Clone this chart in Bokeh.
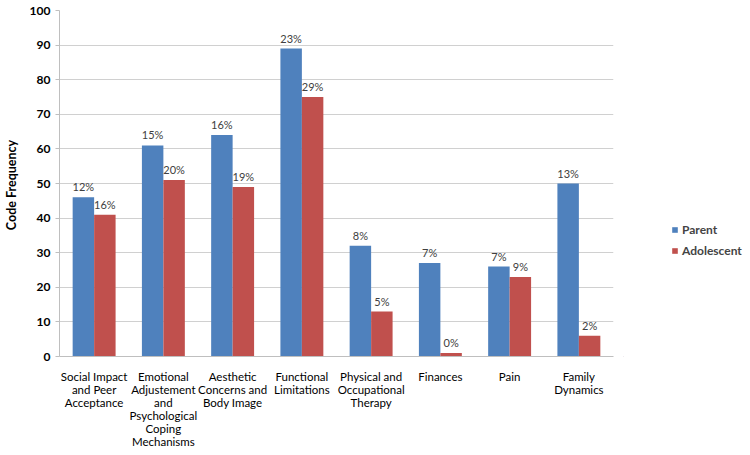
from bokeh.plotting import figure
from bokeh.models import FactorRange, ColumnDataSource, Legend, LegendItem, Range1d
from bokeh.layouts import row
from bokeh.transform import dodge
from bokeh.core.properties import value
from bokeh.embed import file_html
from bokeh.resources import INLINE

categories = ["Social Impact\nand Peer\nAcceptance",
              "Emotional\nAdjustement\nand\nPsychological\nCoping\nMechanisms",
              "Aesthetic\nConcerns and\nBody Image",
              "Functional\nLimitations",
              "Physical and\nOccupational\nTherapy",
              "Finances", "Pain", "Family\nDynamics"]
series_names = ["Parent", "Adolescent"]
parent = [46, 61, 64, 89, 32, 27, 26, 50]
adolescent = [41, 51, 49, 75, 13, 1, 23, 6]
parent_pct = ["12%", "15%", "16%", "23%", "8%", "7%", "7%", "13%"]
adolescent_pct = ["16%", "20%", "19%", "29%", "5%", "0%", "9%", "2%"]
y_ticks = list(range(0, 101, 10))

FONT = "Lato"
BLUE = "#4F81BD"
RED = "#C0504D"
H = 453

src = ColumnDataSource(dict(cat=categories, parent=parent, adolescent=adolescent,
                            ppct=parent_pct, apct=adolescent_pct))

p = figure(width=623, height=H, x_range=FactorRange(*categories),
           y_range=Range1d(0, 100), output_backend="svg", toolbar_location=None,
           min_border_left=40, min_border_top=10, min_border_bottom=97, min_border_right=10)
p.outline_line_color = None

w = 0.31
p.vbar(x=dodge("cat", -w / 2, range=p.x_range), top="parent", width=w,
       source=src, fill_color=BLUE, line_color=None)
p.vbar(x=dodge("cat", w / 2, range=p.x_range), top="adolescent", width=w,
       source=src, fill_color=RED, line_color=None)

p.text(x=dodge("cat", -w / 2, range=p.x_range), y="parent", text="ppct", source=src,
       text_align="center", text_baseline="bottom", y_offset=-4,
       text_font=value(FONT), text_font_size="11px", text_color="#404040")
p.text(x=dodge("cat", w / 2, range=p.x_range), y="adolescent", text="apct", source=src,
       text_align="center", text_baseline="bottom", y_offset=-4,
       text_font=value(FONT), text_font_size="11px", text_color="#404040")

p.xgrid.grid_line_color = None
p.ygrid.grid_line_color = "#D0D0D0"
p.ygrid.grid_line_width = 1

p.yaxis.ticker = y_ticks
p.yaxis.axis_label = "Code  Frequency"
p.yaxis.axis_label_text_font = FONT
p.yaxis.axis_label_text_font_style = "bold"
p.yaxis.axis_label_text_font_size = "12.5px"
p.yaxis.axis_label_text_color = "#000000"
p.yaxis.axis_label_standoff = 8
p.yaxis.major_label_text_font = FONT
p.yaxis.major_label_text_font_style = "bold"
p.yaxis.major_label_text_font_size = "12px"
p.yaxis.major_label_text_color = "#000000"
p.yaxis.axis_line_color = "#BFBFBF"
p.yaxis.major_tick_line_color = "#BFBFBF"
p.yaxis.major_tick_in = 0
p.yaxis.major_tick_out = 4
p.yaxis.minor_tick_line_color = None

p.xaxis.major_label_text_font = FONT
p.xaxis.major_label_text_font_size = "11.5px"
p.xaxis.major_label_text_line_height = 1.0
p.xaxis.major_label_text_color = "#000000"
p.xaxis.major_label_standoff = 7
p.xaxis.axis_line_color = "#BFBFBF"
p.xaxis.major_tick_line_color = None

# legend panel (swatches only; their data lies outside the visible range)
lg = figure(width=125, height=H, output_backend="svg", toolbar_location=None,
            x_axis_type=None, y_axis_type=None, min_border=0,
            x_range=Range1d(0, 1), y_range=Range1d(0, 1))
lg.outline_line_color = None
lg.grid.visible = False
d1 = lg.vbar(x=[-5], top=[-5], width=0.1, fill_color=BLUE, line_color=None)
d2 = lg.vbar(x=[-5], top=[-5], width=0.1, fill_color=RED, line_color=None)
legend = Legend(items=[LegendItem(label=series_names[0], renderers=[d1]),
                       LegendItem(label=series_names[1], renderers=[d2])],
                location=(48, 98), label_text_font=FONT, label_text_font_style="bold",
                label_text_font_size="12px", glyph_width=7, glyph_height=7,
                label_height=14, spacing=6, border_line_color=None,
                background_fill_alpha=0, padding=4, label_standoff=4)
lg.add_layout(legend)

layout = row(p, lg)
open("out.html", "w").write(file_html(layout, INLINE))
